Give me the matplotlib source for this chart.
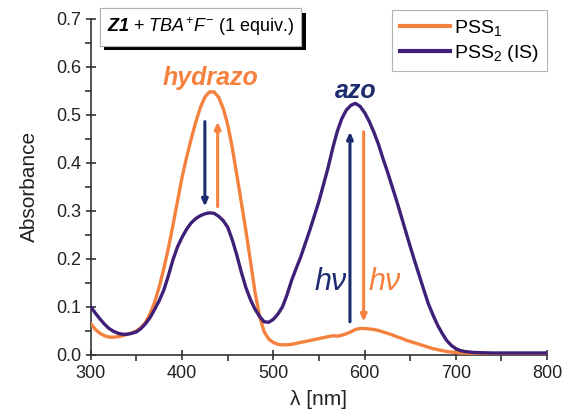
import numpy as np
import matplotlib
matplotlib.use("Agg")
import matplotlib.pyplot as plt
from matplotlib import patheffects

plt.rcParams["font.family"] = ["Liberation Sans", "DejaVu Sans"]
plt.rcParams["mathtext.fontset"] = "custom"
plt.rcParams["mathtext.rm"] = "Liberation Sans"
plt.rcParams["mathtext.it"] = "Liberation Sans:italic"
plt.rcParams["mathtext.bf"] = "Liberation Sans:bold"
plt.rcParams["mathtext.bfit"] = "Liberation Sans:bold:italic"

ORANGE = "#F5813F"
PURPLE = "#3F1F78"
NAVY = "#1C2C6E"

# wavelength grid (nm): 5 nm steps to 720, then coarse tail
wl = list(range(300, 725, 5)) + [740, 760, 780, 800]

# absorbance
pss1 = [0.065, 0.053, 0.045, 0.040, 0.037, 0.037, 0.038, 0.040, 0.043, 0.046,
        0.050, 0.057, 0.068, 0.086, 0.110, 0.142, 0.180, 0.222, 0.270, 0.320,
        0.370, 0.412, 0.450, 0.485, 0.515, 0.537, 0.548, 0.548, 0.537, 0.514,
        0.480, 0.432, 0.375, 0.317, 0.258, 0.195, 0.130, 0.080, 0.048, 0.033,
        0.026, 0.022, 0.021, 0.021, 0.022, 0.024, 0.026, 0.028, 0.030, 0.032,
        0.034, 0.036, 0.038, 0.040, 0.039, 0.041, 0.044, 0.048, 0.053, 0.055,
        0.055, 0.054, 0.053, 0.051, 0.048, 0.045, 0.042, 0.038, 0.035, 0.031,
        0.028, 0.025, 0.022, 0.019, 0.016, 0.013, 0.011, 0.009, 0.007, 0.006,
        0.005, 0.004, 0.004, 0.003, 0.003,
        0.002, 0.002, 0.002, 0.002]

pss2 = [0.100, 0.087, 0.075, 0.064, 0.055, 0.049, 0.045, 0.043, 0.043, 0.045,
        0.048, 0.055, 0.065, 0.078, 0.095, 0.113, 0.135, 0.165, 0.198, 0.225,
        0.245, 0.262, 0.275, 0.284, 0.290, 0.294, 0.296, 0.295, 0.289, 0.280,
        0.266, 0.240, 0.208, 0.172, 0.140, 0.115, 0.095, 0.080, 0.069, 0.068,
        0.074, 0.085, 0.100, 0.125, 0.155, 0.180, 0.204, 0.232, 0.260, 0.290,
        0.320, 0.355, 0.390, 0.430, 0.465, 0.492, 0.510, 0.520, 0.524, 0.518,
        0.505, 0.487, 0.465, 0.440, 0.410, 0.382, 0.352, 0.322, 0.290, 0.258,
        0.226, 0.195, 0.165, 0.135, 0.106, 0.083, 0.062, 0.045, 0.030, 0.020,
        0.013, 0.009, 0.007, 0.006, 0.005,
        0.004, 0.004, 0.004, 0.004]

# switching arrows: x position, start, end, colour
arrow_x = [425, 439, 584, 599]
arrow_y0 = [0.486, 0.309, 0.069, 0.465]
arrow_y1 = [0.309, 0.486, 0.465, 0.069]
arrow_col = [NAVY, ORANGE, NAVY, ORANGE]

fig = plt.figure(figsize=(5.64, 4.2), dpi=100)
ax = fig.add_axes([0.161, 0.155, 0.809, 0.800])

ax.plot(wl, pss1, color=ORANGE, lw=2.4, label="PSS$_1$", zorder=3,
        solid_joinstyle="round")
ax.plot(wl, pss2, color=PURPLE, lw=2.4, label="PSS$_2$ (IS)", zorder=4,
        solid_joinstyle="round")

for x, y0, y1, c in zip(arrow_x, arrow_y0, arrow_y1, arrow_col):
    ax.annotate("", xy=(x, y1), xytext=(x, y0),
                arrowprops=dict(arrowstyle="-|>,head_length=0.5,head_width=0.22",
                                color=c, lw=2.2, shrinkA=0, shrinkB=0,
                                mutation_scale=8), zorder=5)

ax.text(431, 0.577, "hydrazo", color=ORANGE, fontsize=18, fontweight="bold",
        fontstyle="italic", ha="center", va="center")
ax.text(590, 0.549, "azo", color=NAVY, fontsize=18, fontweight="bold",
        fontstyle="italic", ha="center", va="center")
ax.text(563, 0.151, "h\u03bd", color=NAVY, fontsize=22, fontstyle="italic",
        ha="center", va="center")
ax.text(622, 0.151, "h\u03bd", color=ORANGE, fontsize=22, fontstyle="italic",
        ha="center", va="center")

t = ax.text(420, 0.683, r"$\mathbfit{Z1}$ + $\mathit{TBA}^{+}\mathit{F}^{-}$ (1 equiv.)",
            fontsize=13, ha="center", va="center", clip_on=False, zorder=6,
            bbox=dict(boxstyle="square,pad=0.4", fc="white", ec="#b0b0b0", lw=0.8))
t.get_bbox_patch().set_path_effects([
    patheffects.withSimplePatchShadow(offset=(3.5, -3.5), shadow_rgbFace="black", alpha=1.0),
    patheffects.Normal()])

leg = ax.legend(loc="upper right", bbox_to_anchor=(547 / 564, 1 - 10 / 420),
                bbox_transform=fig.transFigure, borderaxespad=0, fontsize=14,
                frameon=True, fancybox=False, edgecolor="#a0a0a0",
                handlelength=2.6, handletextpad=0.2, labelspacing=0.25,
                borderpad=0.4)
leg.get_frame().set_linewidth(0.8)
for line in leg.get_lines():
    line.set_linewidth(3)

ax.set_xlim(300, 800)
ax.set_ylim(0, 0.7)
ax.set_xticks([300, 400, 500, 600, 700, 800])
ax.set_xticks([350, 450, 550, 650, 750], minor=True)
ax.set_yticks(np.arange(0, 0.71, 0.1))
ax.set_yticks(np.arange(0.05, 0.7, 0.1), minor=True)
ax.yaxis.set_major_formatter(matplotlib.ticker.FormatStrFormatter("%.1f"))

for s in ["top", "right"]:
    ax.spines[s].set_visible(False)
for s in ["left", "bottom"]:
    ax.spines[s].set_color("#333333")
    ax.spines[s].set_linewidth(1.2)

ax.tick_params(which="major", direction="inout", length=7, width=1.2,
               colors="#333333", labelsize=13, labelcolor="#222222")
ax.tick_params(which="minor", direction="out", length=4, width=1.2, colors="#333333")

ax.set_xlabel("\u03bb [nm]", fontsize=15, color="#222222", labelpad=6)
ax.set_ylabel("Absorbance", fontsize=15, color="#222222", labelpad=12)

fig.savefig("out.png", dpi=100)
